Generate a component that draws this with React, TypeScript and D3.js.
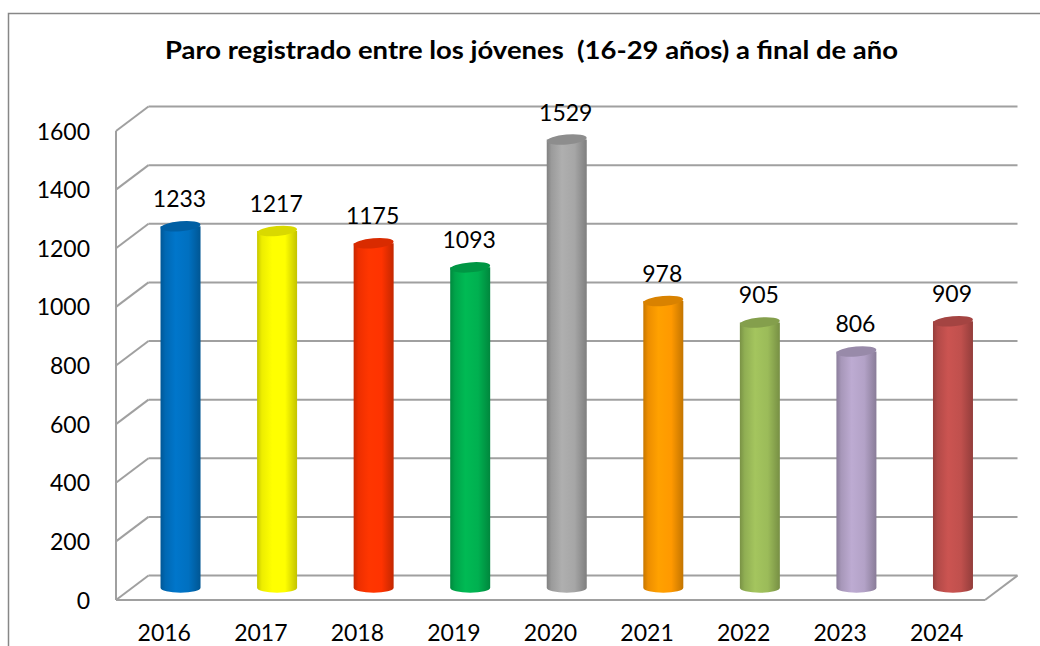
import React from "react";
import * as d3 from "d3";

const years = ["2016", "2017", "2018", "2019", "2020", "2021", "2022", "2023", "2024"];
const values = [1233, 1217, 1175, 1093, 1529, 978, 905, 806, 909];
const colors = ["#0070C0", "#FFFF00", "#FF3300", "#00B050", "#A6A6A6", "#FF9900", "#9BBB59", "#B3A2C7", "#C0504D"];
const yTicks = [0, 200, 400, 600, 800, 1000, 1200, 1400, 1600];
const title = "Paro registrado entre los jóvenes  (16-29 años) a final de año";

const W = 1040;
const H = 646;
const FONT = "Lato, 'Open Sans', sans-serif";

export default function App() {
  const frontLeft = 116;
  const frontRight = 985;
  const frontBase = 600;
  const dx = 32.5;
  const dy = -24.5;
  const plotH = 469;

  const yFront = d3.scaleLinear().domain([0, 1600]).range([frontBase, frontBase - plotH]);
  const yBack = (v: number) => yFront(v) + dy;
  const yMid = (v: number) => yFront(v) + dy / 2;
  const x = d3.scaleBand<string>().domain(years).range([frontLeft, frontRight]).padding(0);
  const bw = x.bandwidth();
  const rx = 20;
  const ry = 5;

  const grid = "#A0A0A0";
  const fs = 23;

  return (
    <svg width={W} height={H} style={{ position: "absolute", left: 0, top: 0, background: "#fff" }}>
      <defs>
        {colors.map((c, i) => {
          const base = d3.color(c)!;
          return (
            <linearGradient key={i} id={`g${i}`} x1="0" x2="1" y1="0" y2="0">
              <stop offset="0%" stopColor={base.darker(0.7).formatHex()} />
              <stop offset="12%" stopColor={base.darker(0.2).formatHex()} />
              <stop offset="38%" stopColor={base.brighter(0.15).formatHex()} />
              <stop offset="70%" stopColor={base.formatHex()} />
              <stop offset="100%" stopColor={base.darker(0.75).formatHex()} />
            </linearGradient>
          );
        })}
      </defs>
      <rect x={8.5} y={13.5} width={W + 10} height={H + 10} fill="#fff" stroke="#878787" strokeWidth={1.5} />

      <text
        x={531.5}
        y={59}
        textAnchor="middle"
        fontFamily={FONT}
        fontWeight="bold"
        fontSize={24}
        fill="#000"
        textLength={733}
        lengthAdjust="spacingAndGlyphs"
        style={{ whiteSpace: "pre" }}
      >
        {title}
      </text>

      {/* gridlines: side wall diagonal + back wall horizontal */}
      {yTicks.map((t) => (
        <g key={t}>
          <line x1={frontLeft} y1={yFront(t)} x2={frontLeft + dx} y2={yBack(t)} stroke={grid} strokeWidth={2} />
          <line x1={frontLeft + dx} y1={yBack(t)} x2={frontRight + dx} y2={yBack(t)} stroke={grid} strokeWidth={2} />
        </g>
      ))}
      {/* left wall front edge */}
      <line x1={frontLeft} y1={yFront(1600)} x2={frontLeft} y2={frontBase} stroke={grid} strokeWidth={2} />
      {/* floor */}
      <line x1={frontLeft} y1={frontBase} x2={frontRight} y2={frontBase} stroke={grid} strokeWidth={2} />
      <line x1={frontRight} y1={frontBase} x2={frontRight + dx} y2={yBack(0)} stroke={grid} strokeWidth={2} />

      {/* y tick labels */}
      {yTicks.map((t) => (
        <text key={t} x={90} y={yFront(t) + 8.5} textAnchor="end" fontFamily={FONT} fontSize={fs} fill="#000">
          {t}
        </text>
      ))}

      {/* bars */}
      {years.map((yr, i) => {
        const cx = (x(yr) as number) + bw / 2 + dx / 2;
        const yb = yMid(0);
        const yt = yMid(values[i]);
        const base = d3.color(colors[i])!;
        const d = `M${cx - rx},${yt} L${cx - rx},${yb} A${rx},${ry} 0 0 0 ${cx + rx},${yb} L${cx + rx},${yt} Z`;
        return (
          <g key={yr}>
            <path d={d} fill={`url(#g${i})`} />
            <ellipse
              cx={cx}
              cy={yt}
              rx={rx}
              ry={ry}
              fill={base.darker(0.45).formatHex()}
              transform={`rotate(-5 ${cx} ${yt})`}
            />
            <text x={cx - 1} y={yt - 19} textAnchor="middle" fontFamily={FONT} fontSize={fs} fill="#000">
              {values[i]}
            </text>
          </g>
        );
      })}

      {/* x labels */}
      {years.map((yr) => (
        <text
          key={yr}
          x={(x(yr) as number) + bw / 2}
          y={641}
          textAnchor="middle"
          fontFamily={FONT}
          fontSize={fs}
          fill="#000"
        >
          {yr}
        </text>
      ))}
    </svg>
  );
}
